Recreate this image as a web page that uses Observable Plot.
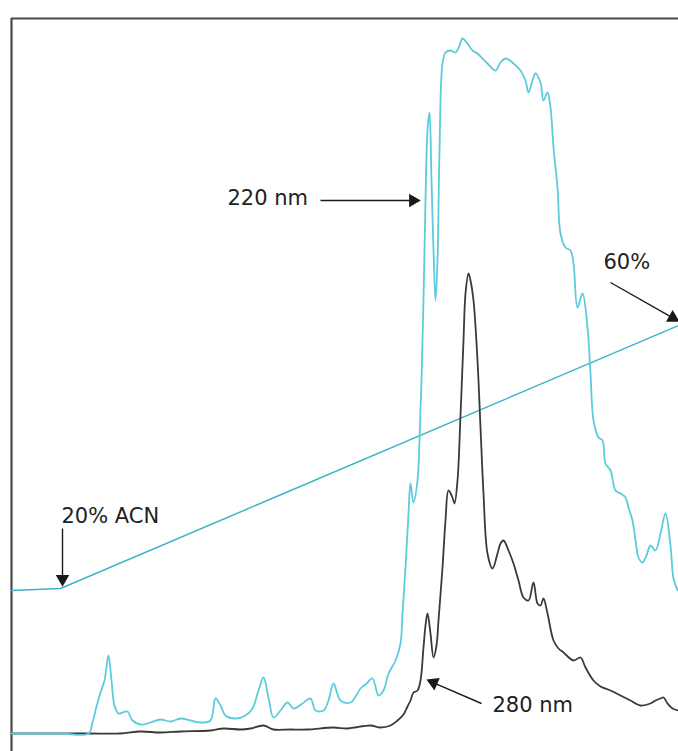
<!DOCTYPE html>
<html>
<head>
<meta charset="utf-8">
<script src="https://cdn.jsdelivr.net/npm/d3@7"></script>
<script src="https://cdn.jsdelivr.net/npm/@observablehq/plot@0.6"></script>
<style>
  html, body { margin: 0; padding: 0; background: #fff; }
</style>
</head>
<body>
<div id="chart"></div>
<script>
// Elution time (arbitrary scan units) and absorbance (arbitrary units)
const t220 = [0,49,77,81,85,89,93,97,100,103,107,111,116,121,129,139,149,159,169,179,189,199,204,209,214,224,234,241,247,252,257,262,269,276,282,291,299,304,312,317,322,329,339,349,355,361,367,372,377,384,389,391,394,397,399,402,406,408,410,412,414,416,418,420,422,424,426,428,431,434,439,444,448,451,456,461,466,471,476,484,489,494,502,509,514,517,521,524,529,532,536,539,542,546,549,554,559,562,566,571,576,579,582,587,591,594,599,604,609,614,617,621,624,627,631,635,639,644,649,654,659,662,666];
const a220 = [0,0,0,11,27,41,53,78,53,28,20,21,22,13,9,11,14,12,15,13,11,13,35,28,18,15,18,25,43,56,36,16,23,31,25,30,35,23,23,33,50,33,31,45,50,55,38,43,60,73,90,120,166,220,250,231,253,293,353,433,533,603,621,553,483,433,473,583,670,681,683,681,688,695,690,683,680,675,670,663,671,675,670,663,653,641,653,660,651,633,641,626,586,546,500,486,483,470,426,440,406,360,313,296,293,270,263,243,240,236,226,213,193,176,171,178,188,183,200,220,188,155,143];

const t280 = [0,77,109,129,149,169,199,212,229,239,252,262,279,296,322,336,359,369,379,386,392,396,399,402,406,409,412,414,416,419,422,425,427,431,434,437,441,443,446,449,452,454,457,459,462,466,469,472,476,481,486,489,492,497,502,507,512,517,522,526,529,532,536,542,547,552,562,569,574,582,589,599,609,619,629,639,644,649,652,656,661,667];
const a280 = [0,0,0,2,1,2,3,5,4,5,8,4,4,4,6,5,8,6,8,13,19,27,33,41,43,53,86,108,120,100,76,88,113,166,213,243,236,230,253,318,393,440,460,453,433,373,306,240,180,165,180,190,193,183,170,153,136,133,151,130,128,135,120,93,85,81,73,76,66,53,47,43,38,33,28,30,33,35,36,30,25,23];

// Acetonitrile gradient trace
const tGrad = [0, 49, 667];
const aGrad = [143, 145, 408];

// Annotations
const labels = ["20% ACN", "220 nm", "60%", "280 nm"];
const labelT = [50, 216, 592, 481];
const labelA = [217, 535, 471, 28];
const arrowT1 = [51, 309, 599, 470];
const arrowA1 = [205, 533, 451, 30];
const arrowT2 = [51, 407, 666, 417];
const arrowA2 = [149, 533, 413, 53];

const s220 = t220.map((t, i) => ({t, a: a220[i]}));
const s280 = t280.map((t, i) => ({t, a: a280[i]}));
const grad = tGrad.map((t, i) => ({t, a: aGrad[i]}));
const notes = labels.map((text, i) => ({text, t: labelT[i], a: labelA[i]}));
const arrows = labels.map((text, i) => {
  const dt = arrowT2[i] - arrowT1[i], da = arrowA2[i] - arrowA1[i];
  const len = Math.hypot(dt, da);
  const ut = dt / len, ua = da / len;
  return {
    t1: arrowT1[i], a1: arrowA1[i],
    t2: arrowT2[i] - ut * 7, a2: arrowA2[i] - ua * 7,
    th: arrowT2[i] - ut * 5.5, ah: arrowA2[i] - ua * 5.5,
    rot: Math.atan2(dt, da) * 180 / Math.PI
  };
});

const chart = Plot.plot({
  width: 678,
  height: 751,
  marginLeft: 11,
  marginTop: 18,
  marginRight: 0,
  marginBottom: 0,
  x: {domain: [0, 667], axis: null},
  y: {domain: [-18, 715], axis: null},
  style: {background: "#fff", overflow: "visible"},
  marks: [
    Plot.ruleX([0], {stroke: "#4a4a4a", strokeWidth: 2.2}),
    Plot.ruleY([715], {stroke: "#4a4a4a", strokeWidth: 2.2}),
    Plot.line(grad, {x: "t", y: "a", stroke: "#3db4c9", strokeWidth: 1.5}),
    Plot.line(s280, {x: "t", y: "a", stroke: "#3a3a3a", strokeWidth: 1.8, curve: "catmull-rom"}),
    Plot.line(s220, {x: "t", y: "a", stroke: "#5ccbdc", strokeWidth: 1.8, curve: "catmull-rom"}),
    Plot.link(arrows, {x1: "t1", y1: "a1", x2: "t2", y2: "a2", stroke: "#1a1a1a", strokeWidth: 1.4}),
    Plot.dot(arrows, {x: "th", y: "ah", symbol: "triangle", r: 5, rotate: "rot", fill: "#1a1a1a", stroke: "none"}),
    Plot.text(notes, {x: "t", y: "a", text: "text", textAnchor: "start", lineAnchor: "middle",
      fontSize: 21, fontFamily: "DejaVu Sans", fill: "#222"})
  ]
});
document.getElementById("chart").appendChild(chart);
</script>
</body>
</html>
